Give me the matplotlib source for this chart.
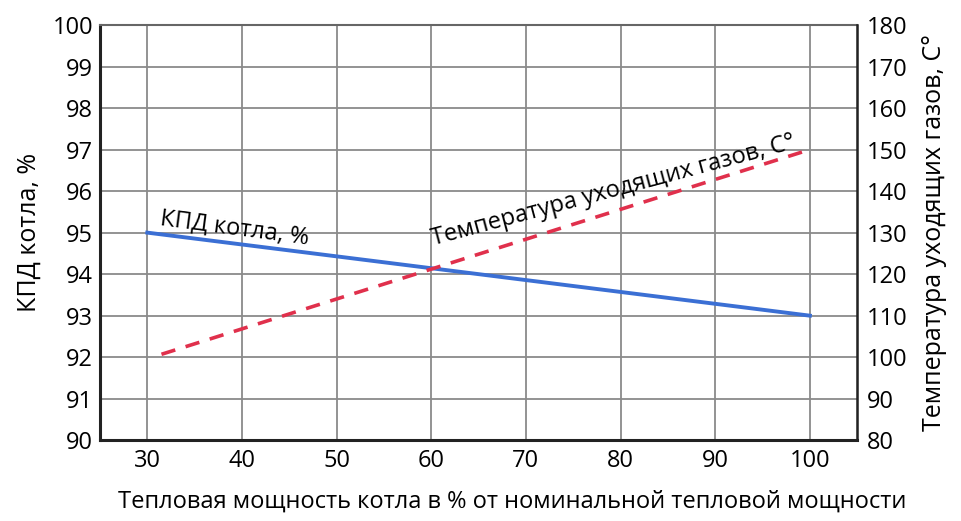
import matplotlib
matplotlib.use("Agg")
import matplotlib.pyplot as plt

plt.rcParams['font.family'] = ['Open Sans', 'DejaVu Sans']

# Data
load_pct = [30, 100]
efficiency = [95.0, 93.0]
gas_load_pct = [31.5, 100]
gas_temp = [100.7, 150.0]

x_ticks = [30, 40, 50, 60, 70, 80, 90, 100]
left_ticks = [90, 91, 92, 93, 94, 95, 96, 97, 98, 99, 100]
right_ticks = [80, 90, 100, 110, 120, 130, 140, 150, 160, 170, 180]

fig = plt.figure(figsize=(9.61, 5.21), dpi=100)
ax = fig.add_axes([0.104, 0.155, 0.788, 0.797])
ax2 = ax.twinx()

ax.set_xlim(25, 105)
ax.set_ylim(90, 100)
ax2.set_ylim(80, 180)

ax.set_xticks(x_ticks)
ax.set_yticks(left_ticks)
ax2.set_yticks(right_ticks)
ax.grid(True, color='#8a8a8a', linewidth=1.3)
ax.set_axisbelow(True)

ax.tick_params(axis='y', length=0, labelsize=17, pad=5)
ax.tick_params(axis='x', length=0, labelsize=17, pad=6)
ax2.tick_params(length=0, labelsize=17, pad=7)

for s in ['left', 'bottom']:
    ax.spines[s].set_linewidth(2.2)
    ax.spines[s].set_color('#222222')
ax.spines['top'].set_color('#666666')
ax.spines['top'].set_linewidth(1.5)
ax2.spines['right'].set_color('#222222')
ax2.spines['right'].set_linewidth(1.8)
for s in ['left', 'bottom', 'top']:
    ax2.spines[s].set_visible(False)

ax.plot(load_pct, efficiency, color='#3b6fd4', linewidth=2.8, zorder=3)
ax2.plot(gas_load_pct, gas_temp, color='#e0304c', linewidth=2.6,
         linestyle=(0, (4, 3)), zorder=3)

ax.text(31.3, 95.2, 'КПД котла, %', fontsize=17, rotation=-7.5,
        ha='left', va='baseline', rotation_mode='anchor')
ax2.text(60.2, 127.0, 'Температура уходящих газов, С°', fontsize=17,
         rotation=15, ha='left', va='baseline', rotation_mode='anchor')

ax.set_xlabel('Тепловая мощность котла в % от номинальной тепловой мощности',
              fontsize=17)
ax.xaxis.set_label_coords(0.544, -0.12)
ax.set_ylabel('КПД котла, %', fontsize=18, labelpad=8)
ax2.set_ylabel('Температура уходящих газов, С°', fontsize=18, labelpad=10)

fig.savefig('out.png', dpi=100)
